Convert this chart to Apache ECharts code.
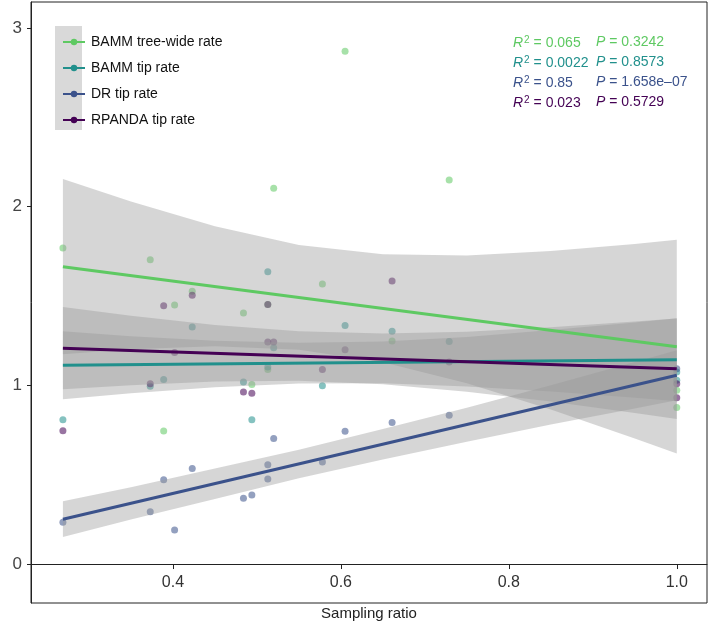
<!DOCTYPE html>
<html>
<head>
<meta charset="utf-8">
<script src="https://cdn.jsdelivr.net/npm/echarts@6/dist/echarts.min.js"></script>
<style>
  html, body { margin: 0; padding: 0; background: #fff; }
  #chart { width: 709px; height: 625px; }
</style>
</head>
<body>
<div id="chart"></div>
<script>
// scatter points [sampling ratio, ratio]
var treeWidePts = [[0.269,1.768],[0.373,1.703],[0.389,0.744],[0.402,1.45],[0.423,1.527],[0.484,1.405],
  [0.494,1.004],[0.513,1.088],[0.513,1.452],[0.52,2.103],[0.578,1.567],[0.605,2.87],[0.661,1.248],
  [0.729,2.149],[1.0,0.972],[1.0,0.876]];
var tipPts = [[0.269,0.807],[0.373,0.995],[0.389,1.032],[0.423,1.326],[0.484,1.019],[0.494,0.807],
  [0.513,1.636],[0.513,1.102],[0.52,1.21],[0.578,0.998],[0.605,1.335],[0.661,1.303],[0.729,1.245],
  [1.0,1.075],[1.0,1.028]];
var drPts = [[0.269,0.234],[0.373,0.292],[0.389,0.472],[0.402,0.191],[0.423,0.535],[0.484,0.368],
  [0.494,0.387],[0.513,0.556],[0.513,0.476],[0.52,0.703],[0.578,0.571],[0.605,0.743],[0.661,0.792],
  [0.729,0.833],[1.0,1.093]];
var rpandaPts = [[0.269,0.746],[0.373,1.009],[0.389,1.446],[0.402,1.184],[0.423,1.504],[0.484,0.963],
  [0.494,0.955],[0.513,1.452],[0.513,1.242],[0.52,1.242],[0.578,1.089],[0.605,1.199],[0.661,1.584],
  [0.729,1.13],[1.0,1.009],[1.0,0.931]];

// fitted lines (ends)
var lineX = [0.269, 1.0];
var treeWideFit = [1.664, 1.216];
var tipFit = [1.112, 1.143];
var drFit = [0.251, 1.056];
var rpandaFit = [1.208, 1.093];

// confidence bands
var bandX = [0.269, 0.35, 0.45, 0.55, 0.65, 0.75, 0.85, 0.95, 1.0];
var treeWideUp = [2.154, 2.028, 1.890, 1.785, 1.733, 1.726, 1.751, 1.791, 1.814];
var treeWideLo = [1.174, 1.202, 1.218, 1.199, 1.129, 1.012, 0.865, 0.703, 0.618];
var tipUp = [1.302, 1.275, 1.249, 1.238, 1.245, 1.271, 1.309, 1.352, 1.375];
var tipLo = [0.922, 0.955, 0.989, 1.010, 1.011, 0.993, 0.965, 0.930, 0.911];
var drUp = [0.351, 0.429, 0.534, 0.640, 0.755, 0.875, 1.001, 1.131, 1.196];
var drLo = [0.151, 0.249, 0.364, 0.480, 0.585, 0.685, 0.781, 0.871, 0.916];
var rpandaUp = [1.438, 1.389, 1.338, 1.302, 1.290, 1.300, 1.325, 1.357, 1.374];
var rpandaLo = [0.978, 1.001, 1.022, 1.026, 1.006, 0.964, 0.909, 0.845, 0.812];

var names = ['BAMM tree-wide rate', 'BAMM tip rate', 'DR tip rate', 'RPANDA tip rate'];
var colors = ['#5ec962', '#21908c', '#3b528b', '#440154'];
var stats = [['0.065', '0.3242'], ['0.0022', '0.8573'], ['0.85', '1.658e\u201307'], ['0.023', '0.5729']];

var xTicks = [0.4, 0.6, 0.8, 1.0];
var yTicks = [0, 1, 2, 3];

var pts = [treeWidePts, tipPts, drPts, rpandaPts];
var fits = [treeWideFit, tipFit, drFit, rpandaFit];
var ups = [treeWideUp, tipUp, drUp, rpandaUp];
var los = [treeWideLo, tipLo, drLo, rpandaLo];

var chart = echarts.init(document.getElementById('chart'));
var font = 'Liberation Sans';

function bandSeries(i) {
  var rows = bandX.map(function (x, k) { return [x, los[i][k], ups[i][k]]; });
  return {
    type: 'custom',
    z: 3,
    silent: true,
    data: rows,
    renderItem: function (params, api) {
      if (params.dataIndex !== 0) return;
      var top = [], bot = [];
      for (var k = 0; k < rows.length; k++) {
        top.push(api.coord([rows[k][0], rows[k][2]]));
        bot.unshift(api.coord([rows[k][0], rows[k][1]]));
      }
      return {
        type: 'polygon',
        shape: { points: top.concat(bot) },
        style: { fill: 'rgba(153,153,153,0.4)' }
      };
    }
  };
}

var series = [];
names.forEach(function (n, i) {
  series.push({
    name: n,
    type: 'line',
    z: 5,
    data: lineX.map(function (x, k) { return [x, fits[i][k]]; }),
    symbol: 'circle',
    symbolSize: 6,
    showSymbol: false,
    lineStyle: { width: 3, color: colors[i] },
    itemStyle: { color: colors[i] },
    silent: true
  });
});
names.forEach(function (n, i) {
  series.push({
    name: n,
    type: 'scatter',
    z: 2,
    symbolSize: 7,
    data: pts[i],
    itemStyle: { color: colors[i], opacity: 0.55 }
  });
});
names.forEach(function (n, i) { series.push(bandSeries(i)); });

var statTexts = [];
stats.forEach(function (s, i) {
  var y = 35 + i * 20;
  statTexts.push({
    type: 'text', left: 513, top: y,
    style: {
      text: '{i|R}{s|2}{n| = ' + s[0] + '}',
      rich: {
        i: { fontStyle: 'italic', fontSize: 14, fill: colors[i], fontFamily: font, lineHeight: 17 },
        s: { fontSize: 10, fill: colors[i], fontFamily: font, verticalAlign: 'top', lineHeight: 17, padding: [0, 0, 7, 1] },
        n: { fontSize: 14, fill: colors[i], fontFamily: font, lineHeight: 17 }
      }
    }
  });
  statTexts.push({
    type: 'text', left: 596, top: y,
    style: {
      text: '{i|P}{n| = ' + s[1] + '}',
      rich: {
        i: { fontStyle: 'italic', fontSize: 14, fill: colors[i], fontFamily: font, lineHeight: 17 },
        n: { fontSize: 14, fill: colors[i], fontFamily: font, lineHeight: 17 }
      }
    }
  });
});

chart.setOption({
  backgroundColor: '#fff',
  animation: false,
  grid: {
    left: 31, right: 2, top: 2, bottom: 22, containLabel: false, outerBoundsMode: 'none',
    show: true, borderColor: '#222', borderWidth: 1, backgroundColor: 'transparent'
  },
  xAxis: {
    type: 'value', min: 0.231, max: 1.036,
    name: 'Sampling ratio', nameLocation: 'middle', nameGap: 3,
    nameTextStyle: { fontFamily: font, fontSize: 15, color: '#222', verticalAlign: 'top' },
    axisLine: { show: true, lineStyle: { color: '#222', width: 1 } },
    axisTick: { show: true, length: 5, customValues: xTicks, lineStyle: { color: '#222' } },
    axisLabel: {
      inside: true, margin: 12, customValues: xTicks, fontFamily: font, fontSize: 16, color: '#333',
      formatter: function (v) { return v.toFixed(1); }
    },
    splitLine: { show: false }
  },
  yAxis: {
    type: 'value', min: -0.218, max: 3.145,
    name: 'Ratios', nameLocation: 'middle', nameGap: 20,
    nameTextStyle: { fontFamily: font, fontSize: 15, color: '#222' },
    axisLine: { show: true, lineStyle: { color: '#222', width: 1 } },
    axisTick: { show: true, length: 4, customValues: yTicks, lineStyle: { color: '#222' } },
    axisLabel: { margin: 9, customValues: yTicks, fontFamily: font, fontSize: 17, color: '#444' },
    splitLine: { show: false }
  },
  legend: {
    data: names, orient: 'vertical', left: 57, top: 30,
    itemWidth: 22, itemHeight: 8, itemGap: 12,
    textStyle: { fontFamily: font, fontSize: 14, color: '#111', padding: [0, 0, 0, 1] },
    selectedMode: false
  },
  graphic: [
    { type: 'rect', left: 55, top: 26, z: -1, shape: { width: 27, height: 104 }, style: { fill: '#d9d9d9' } }
  ].concat(statTexts),
  series: series
});
</script>
</body>
</html>
